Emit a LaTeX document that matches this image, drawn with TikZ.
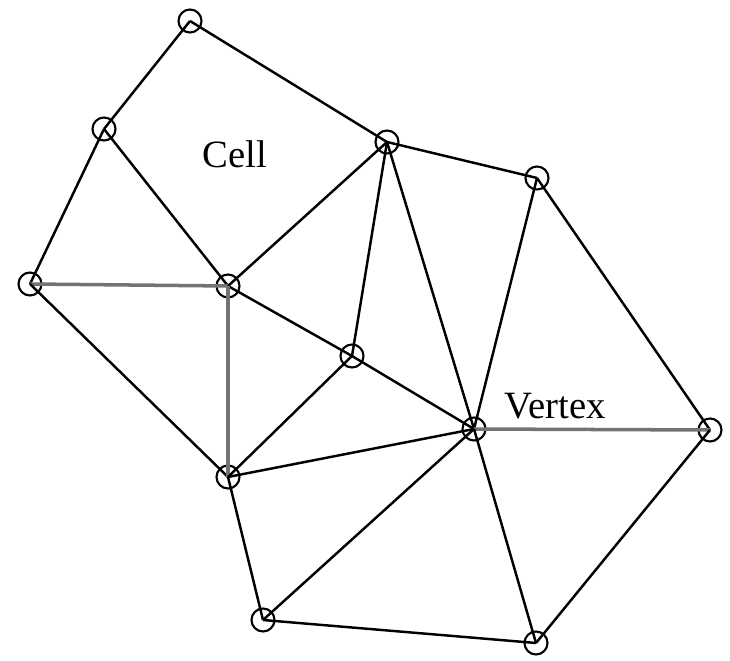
\documentclass[tikz,border=0pt]{standalone}
\usepackage{fontspec}
\setmainfont{Liberation Serif}
\usepackage{tikz}

\tikzset{
  pt/.style={circle, draw, line width=1.2pt, inner sep=0pt, minimum size=0.46cm},
  edge/.style={line width=1.4pt},
  flatedge/.style={line width=2pt, draw=black!55},
  lbl/.style={inner sep=0pt, font=\fontsize{22}{26}\selectfont}
}

\begin{document}
\begin{tikzpicture}[x=0.02cm, y=-0.02cm]
\useasboundingbox (0,0) rectangle (730,661);
% vertices
\node[pt] (a) at (190,21) {};
\node[pt] (b) at (104,129) {};
\node[pt] (c) at (30,284) {};
\node[pt] (d) at (228,286) {};
\node[pt] (e) at (387,142) {};
\node[pt] (f) at (537,178) {};
\node[pt] (g) at (352,356) {};
\node[pt] (h) at (474,429) {};
\node[pt] (i) at (710,430) {};
\node[pt] (j) at (228,477) {};
\node[pt] (k) at (263,620) {};
\node[pt] (l) at (536,643) {};
% edges
\draw[edge] (a.center) -- (b.center) ;
\draw[edge] (a.center) -- (e.center) ;
\draw[edge] (b.center) -- (c.center) ;
\draw[edge] (b.center) -- (d.center) ;
\draw[flatedge] (c.center) -- (d.center) ;
\draw[edge] (c.center) -- (j.center) ;
\draw[edge] (d.center) -- (e.center) ;
\draw[edge] (d.center) -- (g.center) ;
\draw[flatedge] (d.center) -- (j.center) ;
\draw[edge] (e.center) -- (g.center) ;
\draw[edge] (e.center) -- (h.center) ;
\draw[edge] (e.center) -- (f.center) ;
\draw[edge] (f.center) -- (h.center) ;
\draw[edge] (f.center) -- (i.center) ;
\draw[edge] (g.center) -- (j.center) ;
\draw[edge] (g.center) -- (h.center) ;
\draw[flatedge] (h.center) -- (i.center) ;
\draw[edge] (h.center) -- (j.center) ;
\draw[edge] (h.center) -- (k.center) ;
\draw[edge] (h.center) -- (l.center) ;
\draw[edge] (i.center) -- (l.center) ;
\draw[edge] (j.center) -- (k.center) ;
\draw[edge] (k.center) -- (l.center) ;
% labels
\node[lbl] (cell) at (235,154) {Cell} ;
\node[lbl] (vertex) at (555,406) {Vertex} ;
\end{tikzpicture}
\end{document}
